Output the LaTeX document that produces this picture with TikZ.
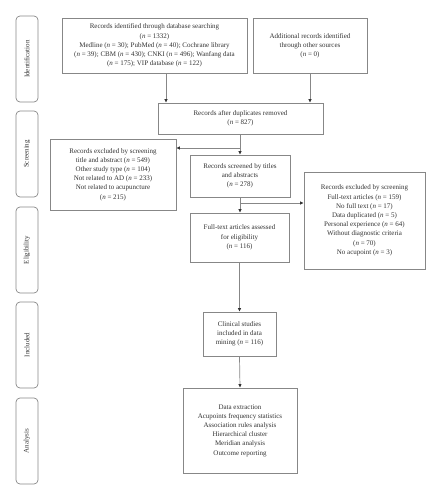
\documentclass[tikz,border=0pt]{standalone}
\usepackage{fontspec}
\setmainfont{Liberation Serif}
\usetikzlibrary{arrows.meta}
\definecolor{linegray}{RGB}{135,135,135}
\definecolor{txtgray}{RGB}{50,50,50}
\begin{document}
\begin{tikzpicture}[x=1pt,y=-1pt,
  box/.style={draw=linegray, line width=0.7pt, align=center, inner sep=1pt, text=txtgray,
    font=\fontsize{7}{9.2}\selectfont},
  side/.style={draw=linegray, line width=0.7pt, rounded corners=4pt, rotate=90, text=txtgray,
    minimum height=22pt, inner sep=0pt, font=\fontsize{7}{9}\selectfont},
  arr/.style={draw=linegray, line width=0.7pt, -{Latex[length=3.5pt,width=3.5pt,color=black!80]}},
  ln/.style={draw=linegray, line width=0.7pt}]
\useasboundingbox (0,0) rectangle (441,500);
% side labels
\node[side, minimum width=86pt] (s1) at (27,59) {Identification};
\node[side, minimum width=86pt] (s2) at (27,154) {Screening};
\node[side, minimum width=86pt] (s3) at (27,250) {Eligibility};
\node[side, minimum width=86pt] (s4) at (27,345) {Included};
\node[side, minimum width=86pt] (s5) at (27,441) {Analysis};
% boxes
\node[box, minimum width=185pt, minimum height=55pt] (b1) at (154.5,45.5)
  {Records identified through database searching\\(\textit{n} = 1332)\\Medline (\textit{n} = 30); PubMed (\textit{n} = 40); Cochrane library\\(\textit{n} = 39); CBM (\textit{n} = 430); CNKI (\textit{n} = 496); Wanfang data\\(\textit{n} = 175); VIP database (\textit{n} = 122)};
\node[box, minimum width=114pt, minimum height=55pt] (b2) at (310,45.5)
  {Additional records identified\\through other sources\\(\textit{n} = 0)};
\node[box, minimum width=165pt, minimum height=31pt] (b3) at (240.5,118.5)
  {Records after duplicates removed\\(\textit{n} = 827)};
\node[box, minimum width=126pt, minimum height=71pt] (b4) at (113,174.5)
  {Records excluded by screening\\title and abstract (\textit{n} = 549)\\Other study type (\textit{n} = 104)\\Not related to AD (\textit{n} = 233)\\Not related to acupuncture\\(\textit{n} = 215)};
\node[box, minimum width=100pt, minimum height=42pt] (b5) at (240,176)
  {Records screened by titles\\and abstracts\\(\textit{n} = 278)};
\node[box, minimum width=121pt, minimum height=97pt] (b6) at (364.5,220.5)
  {Records excluded by screening\\Full-text articles (\textit{n} = 159)\\No full text (\textit{n} = 17)\\Data duplicated (\textit{n} = 5)\\Personal experience (\textit{n} = 64)\\Without diagnostic criteria\\(\textit{n} = 70)\\No acupoint (\textit{n} = 3)};
\node[box, minimum width=99pt, minimum height=49pt] (b7) at (239.5,237.5)
  {Full-text articles assessed\\for eligibility\\(\textit{n} = 116)};
\node[box, minimum width=73pt, minimum height=44pt] (b8) at (239.5,334)
  {Clinical studies\\included in data\\mining (\textit{n} = 116)};
\node[box, minimum width=114pt, minimum height=85pt] (b9) at (240,430.5)
  {Data extraction\\Acupoints frequency statistics\\Association rules analysis\\Hierarchical cluster\\Meridian analysis\\Outcome reporting};
% connectors
\coordinate (j1) at (240,148);
\coordinate (j2) at (240,203);
\draw[arr] (b1.south -| 166,0) -- (b3.north -| 166,0);
\draw[arr] (b2.south -| 310,0) -- (b3.north -| 310,0);
\draw[ln] (b3.south -| j1) -- (j1);
\draw[arr] (j1) -- (b5.north -| j1);
\draw[arr] (j1) -- (j1 -| b4.east);
\draw[ln] (b5.south -| j2) -- (j2);
\draw[arr] (j2) -- (b7.north -| j2);
\draw[arr] (j2) -- (j2 -| b6.west);
\draw[arr] (b7.south) -- (b8.north);
\draw[arr] (b8.south) -- (b9.north);
\end{tikzpicture}
\end{document}
